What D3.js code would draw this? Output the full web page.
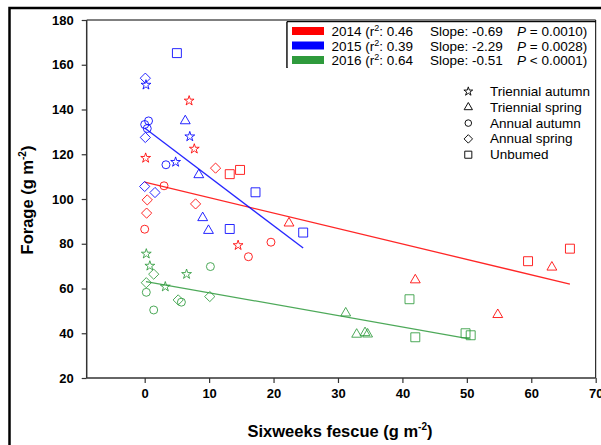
<!DOCTYPE html>
<html>
<head>
<meta charset="utf-8">
<script src="https://cdn.jsdelivr.net/npm/d3@7"></script>
<style>
  body { margin: 0; background: #fff; }
  text { font-family: "Liberation Sans", Arial, sans-serif; }
</style>
</head>
<body>
<div id="graph_here"></div>
<script>
// treatment codes: ta = triennial autumn, ts = triennial spring,
// aa = annual autumn, as = annual spring, ub = unburned
const pts2014 = [
  [6.9, 143.9, "ta"], [7.7, 122.4, "ta"], [0.15, 118.3, "ta"], [14.5, 79.3, "ta"],
  [42.0, 63.8, "ts"], [63.2, 69.5, "ts"], [54.8, 48.3, "ts"], [22.4, 89.2, "ts"],
  [3.0, 105.9, "aa"], [0.0, 86.5, "aa"], [19.6, 80.7, "aa"], [16.1, 74.2, "aa"],
  [11.0, 113.8, "as"], [0.4, 99.6, "as"], [7.9, 97.8, "as"], [0.3, 93.7, "as"],
  [13.2, 111.1, "ub"], [14.8, 113.0, "ub"], [59.5, 72.2, "ub"], [66.0, 77.8, "ub"]
];
const pts2015 = [
  [0.2, 151.0, "ta"], [7.0, 127.9, "ta"], [4.8, 116.5, "ta"],
  [6.3, 134.9, "ts"], [8.4, 110.8, "ts"], [9.0, 91.6, "ts"], [9.9, 85.9, "ts"],
  [0.6, 134.9, "aa"], [0.0, 133.3, "aa"], [0.4, 131.5, "aa"], [3.3, 115.3, "aa"],
  [0.1, 154.0, "as"], [0.1, 127.5, "as"], [0.0, 105.6, "as"], [1.6, 102.9, "as"],
  [5.0, 165.2, "ub"], [17.2, 103.0, "ub"], [13.2, 86.6, "ub"], [24.6, 85.0, "ub"]
];
const pts2016 = [
  [0.25, 75.5, "ta"], [0.8, 70.1, "ta"], [6.5, 66.4, "ta"], [3.2, 60.8, "ta"],
  [31.2, 49.0, "ts"], [32.9, 39.5, "ts"], [34.2, 40.2, "ts"], [34.6, 39.6, "ts"],
  [10.2, 69.8, "aa"], [0.25, 58.3, "aa"], [1.4, 50.4, "aa"], [5.7, 53.9, "aa"],
  [1.4, 66.4, "as"], [0.25, 62.6, "as"], [5.2, 54.9, "as"], [10.1, 56.4, "as"],
  [41.1, 55.2, "ub"], [42.0, 38.2, "ub"], [49.8, 40.0, "ub"], [50.6, 39.1, "ub"]
];

const years = ["2014", "2015", "2016"];
const r2Vals = ["0.46", "0.39", "0.64"];
const slopeVals = ["-0.69", "-2.29", "-0.51"];
const pVals = ["= 0.0010", "= 0.0028", "< 0.0001"];

// fitted lines
const fitIntercept = [107.5, 131.7, 63.2];
const fitSlope = [-0.69, -2.18, -0.51];
const fitRange = [[0, 66], [0, 24.6], [0.2, 50.6]];

const treatCodes = ["ta", "ts", "aa", "as", "ub"];
const treatNames = ["Triennial autumn", "Triennial spring", "Annual autumn", "Annual spring", "Unbumed"];

const xTicks = [0, 10, 20, 30, 40, 50, 60, 70];
const yTicks = [20, 40, 60, 80, 100, 120, 140, 160, 180];

const colors = ["#ff0000", "#0000ff", "#2e9a3c"];

function drawChart(){
    const width = 601, height = 445;
    const left = 86.7, right = 595.7, top = 20, bottom = 378;

    const svg = d3.select("#graph_here").append("svg")
        .attr("width", width)
        .attr("height", height);

    // outer frame (runs off the right/bottom edge)
    svg.append("rect")
        .attr("x", 9.5).attr("y", 8)
        .attr("width", 620).attr("height", 460)
        .attr("fill", "none").attr("stroke", "#000").attr("stroke-width", 2.5);

    const xScale = d3.scaleLinear().domain([-9, 70]).range([left, right]);
    const yScale = d3.scaleLinear().domain([20, 180]).range([bottom, top]);

    // top and right frame lines
    svg.append("line").attr("x1", left).attr("x2", right).attr("y1", top).attr("y2", top)
        .attr("stroke", "#000").attr("stroke-width", 1);
    svg.append("line").attr("x1", right).attr("x2", right).attr("y1", top).attr("y2", bottom)
        .attr("stroke", "#000").attr("stroke-width", 1);

    const xAxis = d3.axisBottom(xScale).tickValues(xTicks).tickSize(5).tickPadding(6);
    const yAxis = d3.axisLeft(yScale).tickValues(yTicks).tickSize(5).tickPadding(8);

    const gx = svg.append("g").attr("transform", "translate(0," + bottom + ")").call(xAxis);
    const gy = svg.append("g").attr("transform", "translate(" + left + ",0)").call(yAxis);
    [gx, gy].forEach(g => {
        g.select(".domain").attr("stroke", "#333").attr("stroke-width", 1.5);
        g.selectAll(".tick line").attr("stroke", "#333").attr("stroke-width", 1.2);
        g.selectAll(".tick text")
            .attr("fill", "#000")
            .style("font-family", "Liberation Sans, Arial, sans-serif")
            .style("font-size", "13px")
            .style("font-weight", "bold");
    });
    gx.select(".domain").attr("d", "M" + left + ",0H" + right);
    gy.select(".domain").attr("d", "M0," + bottom + "V" + top);

    // symbol generators
    const diamond = { draw(ctx, size){ const r = Math.sqrt(size / 2);
        ctx.moveTo(0, -r); ctx.lineTo(r, 0); ctx.lineTo(0, r); ctx.lineTo(-r, 0); ctx.closePath(); } };
    const symType = { ta: d3.symbolStar, ts: d3.symbolTriangle, aa: d3.symbolCircle, as: diamond, ub: d3.symbolSquare };
    const symSize = { ta: 30, ts: 42, aa: 50, as: 52, ub: 80 };

    // regression lines
    const line = d3.line().x(d => xScale(d[0])).y(d => yScale(d[1]));
    years.forEach((yr, i) => {
        const ends = fitRange[i].map(x => [x, fitIntercept[i] + fitSlope[i] * x]);
        svg.append("path")
            .attr("d", line(ends))
            .attr("fill", "none")
            .attr("stroke", colors[i])
            .attr("stroke-width", 1.3)
            .attr("opacity", 0.85);
    });

    // data points
    [pts2014, pts2015, pts2016].forEach((pts, i) => {
        svg.append("g").selectAll("path")
            .data(pts)
            .enter()
            .append("path")
            .attr("transform", d => "translate(" + xScale(d[0]) + "," + yScale(d[1]) + ")")
            .attr("d", d => d3.symbol().type(symType[d[2]]).size(symSize[d[2]])())
            .attr("fill", "none")
            .attr("stroke", colors[i])
            .attr("stroke-width", 1)
            .attr("opacity", 0.85);
    });

    // year legend box
    svg.append("path")
        .attr("d", "M287,68V21.7H" + right)
        .attr("fill", "none").attr("stroke", "#000").attr("stroke-width", 1);
    svg.append("rect").attr("x", 287.5).attr("y", 22.2).attr("width", 307).attr("height", 45)
        .attr("fill", "#fff");
    svg.append("path")
        .attr("d", "M287,68V21.7H" + right)
        .attr("fill", "none").attr("stroke", "#000").attr("stroke-width", 1);

    const legend = svg.append("g").selectAll("g")
        .data(years)
        .enter()
        .append("g")
        .attr("transform", (d, i) => "translate(0," + (31 + i * 14.5) + ")");

    legend.append("rect")
        .attr("x", 292).attr("y", -4)
        .attr("width", 32).attr("height", 8)
        .attr("fill", (d, i) => colors[i]);

    const lt = legend.append("text")
        .attr("y", 5)
        .style("font-size", "13.5px")
        .attr("fill", "#000");
    lt.append("tspan").attr("x", 331.5).text(d => d + " (r");
    lt.append("tspan").attr("dy", -5).style("font-size", "9px").text("2");
    lt.append("tspan").attr("dy", 5).text((d, i) => ": " + r2Vals[i]);
    lt.append("tspan").attr("x", 430).text((d, i) => "Slope: " + slopeVals[i]);
    lt.append("tspan").attr("x", 517).style("font-style", "italic").text("P");
    lt.append("tspan").text((d, i) => " " + pVals[i] + ")");

    // treatment legend
    const tl = svg.append("g").selectAll("g")
        .data(treatCodes)
        .enter()
        .append("g")
        .attr("transform", (d, i) => "translate(0," + (91.5 + i * 15.8) + ")");
    const lSize = { ta: 24, ts: 30, aa: 34, as: 36, ub: 50 };
    tl.append("path")
        .attr("transform", "translate(468.3,0)")
        .attr("d", d => d3.symbol().type(symType[d]).size(lSize[d])())
        .attr("fill", "none").attr("stroke", "#111").attr("stroke-width", 1);
    tl.append("text")
        .attr("x", 490).attr("y", 4.5)
        .style("font-size", "13.5px")
        .attr("fill", "#000")
        .text((d, i) => treatNames[i]);

    // axis titles
    const xt = svg.append("text")
        .attr("x", 340).attr("y", 436.5)
        .attr("text-anchor", "middle")
        .style("font-size", "16.5px").style("font-weight", "bold");
    xt.append("tspan").text("Sixweeks fescue (g m");
    xt.append("tspan").attr("dy", -7).style("font-size", "10px").text("-2");
    xt.append("tspan").attr("dy", 7).text(")");

    const yt = svg.append("text")
        .attr("transform", "translate(33,200) rotate(-90)")
        .attr("text-anchor", "middle")
        .style("font-size", "16.5px").style("font-weight", "bold");
    yt.append("tspan").text("Forage (g m");
    yt.append("tspan").attr("dy", -7).style("font-size", "10px").text("-2");
    yt.append("tspan").attr("dy", 7).text(")");
}

window.addEventListener("load", drawChart);
</script>
</body>
</html>
